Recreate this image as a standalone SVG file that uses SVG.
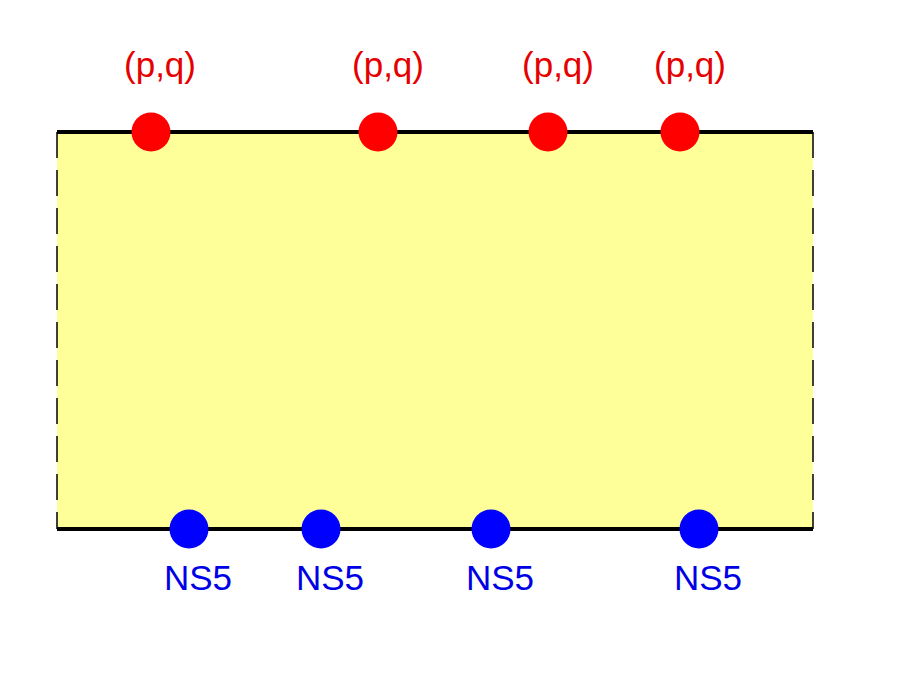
<svg xmlns="http://www.w3.org/2000/svg" width="907" height="680" viewBox="0 0 907 680">
<style>
.fill{fill:#ffff99;stroke:none}
.edge{stroke:#000;stroke-width:4;fill:none}
.side{stroke:#000;stroke-width:1.5;stroke-dasharray:26 12;fill:none}
.rd{fill:#ff0000}
.bd{fill:#0000ff}
.rt{fill:#e60000;font-family:"Liberation Sans",Arial,sans-serif;font-size:35px;text-anchor:middle}
.bt{fill:#0000e6;font-family:"Liberation Sans",Arial,sans-serif;font-size:35px;text-anchor:middle}
</style>
<rect width="907" height="680" fill="#fff"/>
<g id="strip">
<rect class="fill" x="57" y="132" width="756" height="397"/>
<line class="side" x1="57" y1="132" x2="57" y2="529"/>
<line class="side" x1="813" y1="132" x2="813" y2="529"/>
<line class="edge" x1="57" y1="132" x2="813" y2="132"/>
<line class="edge" x1="57" y1="529" x2="813" y2="529"/>
</g>
<g id="connectors"></g>
<g id="top1"><circle class="rd" cx="151" cy="132" r="19.5"/><text class="rt" x="160" y="77">(p,q)</text></g>
<g id="top2"><circle class="rd" cx="378" cy="132" r="19.5"/><text class="rt" x="388" y="77">(p,q)</text></g>
<g id="top3"><circle class="rd" cx="548" cy="132" r="19.5"/><text class="rt" x="558" y="77">(p,q)</text></g>
<g id="top4"><circle class="rd" cx="680" cy="132" r="19.5"/><text class="rt" x="690" y="77">(p,q)</text></g>
<g id="bot1"><circle class="bd" cx="189" cy="529" r="19.5"/><text class="bt" x="198" y="590">NS5</text></g>
<g id="bot2"><circle class="bd" cx="321" cy="529" r="19.5"/><text class="bt" x="330" y="590">NS5</text></g>
<g id="bot3"><circle class="bd" cx="491" cy="529" r="19.5"/><text class="bt" x="500" y="590">NS5</text></g>
<g id="bot4"><circle class="bd" cx="699" cy="529" r="19.5"/><text class="bt" x="708" y="590">NS5</text></g>
</svg>
